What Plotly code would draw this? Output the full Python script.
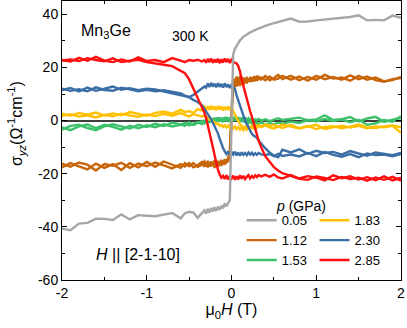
import plotly.graph_objects as go

# Field grid (T), shared by every sweep branch
H = [-2.0, -1.9, -1.8, -1.7, -1.6, -1.5, -1.4, -1.3, -1.2, -1.1, -1.0, -0.9, -0.8, -0.7, -0.6,
     -0.55, -0.5, -0.45, -0.4, -0.35,
     -0.32, -0.30, -0.28, -0.26, -0.24, -0.22, -0.20, -0.18, -0.16, -0.14, -0.12, -0.10, -0.08,
     -0.06, -0.04, -0.02, 0.00, 0.02, 0.04, 0.06, 0.08, 0.10, 0.12, 0.14, 0.16, 0.18, 0.20,
     0.22, 0.24, 0.26, 0.28, 0.30, 0.32,
     0.35, 0.40, 0.45, 0.50, 0.55,
     0.6, 0.7, 0.8, 0.9, 1.0, 1.1, 1.2, 1.3, 1.4, 1.5, 1.6, 1.7, 1.8, 1.9, 2.0]

pressures = ["0.05", "1.12", "1.53", "1.83", "2.30", "2.85"]

s_005 = [-40.6, -41.3, -38.8, -38.5, -36.9, -37.0, -37.4, -35.3, -37.2, -35.6, -35.8, -36.0, -35.4, -34.8, -36.8,
         -34.9, -34.3, -34.6, -36.6, -34.8,
         -33.8, -35.0, -33.2, -34.6, -32.9, -34.2, -32.6, -34.0, -32.4, -33.6, -32.0, -33.0, -31.2,
         -32.3, -30.8, -30.0, -2.0, 25.0, 27.0, 28.2, 29.3, 30.2, 30.8, 31.6, 31.9, 32.4, 32.8,
         33.2, 33.5, 33.9, 34.1, 34.4, 34.6,
         34.9, 35.6, 36.2, 36.6, 37.1,
         37.5, 38.4, 37.2, 37.3, 37.7, 38.0, 38.4, 38.7, 39.0, 39.6, 37.7, 37.9, 37.7, 39.5, 38.7]

s_112_a = [-16.2, -17.4, -15.8, -16.6, -18.8, -16.4, -17.0, -15.9, -17.8, -16.2, -17.2, -15.8, -16.9, -18.0, -16.4,
           -17.3, -16.0, -17.6, -16.8, -15.6,
           -17.4, -15.8, -17.6, -15.9, -17.2, -15.6, -17.8, -15.8, -17.4, -15.4, -17.0, -15.2, -16.6,
           -14.8, -15.6, -13.5, 0.0, 13.8, 15.6, 12.8, 16.2, 13.0, 16.4, 13.4, 16.0, 14.0, 15.8,
           14.6, 16.2, 14.8, 16.6, 15.0, 16.4,
           15.4, 16.8, 15.2, 16.0, 17.2,
           15.6, 16.8, 15.2, 16.4, 15.4, 17.2, 15.8, 16.2, 15.0, 16.8, 15.4, 16.2, 14.8, 15.2, 16.4]
s_112_b = [-17.6, -16.0, -17.2, -18.4, -16.2, -17.8, -16.4, -18.6, -16.0, -17.6, -15.6, -17.4, -15.4, -16.6, -17.8,
           -16.0, -17.2, -16.0, -17.4, -16.6,
           -15.4, -17.0, -15.2, -17.3, -15.4, -16.9, -15.0, -16.8, -15.2, -17.0, -14.8, -16.4, -14.6,
           -16.0, -13.8, -12.0, 4.0, 15.8, 12.6, 16.6, 13.2, 16.8, 13.6, 16.2, 14.2, 16.4, 14.8,
           16.0, 15.0, 16.2, 15.4, 16.8, 15.6,
           16.2, 15.2, 16.6, 15.4, 15.8,
           16.8, 15.4, 16.6, 15.0, 16.8, 15.6, 16.4, 15.4, 17.0, 15.6, 16.6, 15.2, 14.6, 15.6, 16.0]

s_153_a = [-2.6, -3.6, -2.2, -1.5, -2.8, -1.6, -2.4, -3.4, -2.0, -2.9, -1.8, -2.5, -1.4, -2.2, -1.6,
           -0.9, -1.8, -1.2, -0.6, -1.4,
           0.2, -1.0, 0.6, -0.8, 0.8, -0.6, 1.0, -0.5, 1.2, -0.4, 1.0, -0.6, 1.3,
           -0.3, 1.1, -0.5, 1.2, -0.2, 1.4, 0.0, 1.3, -0.2, 1.1, 0.1, 1.2, -0.1, 0.9,
           0.2, 0.7, -0.2, 0.5, 0.1, 0.6,
           0.0, 0.5, -0.2, 0.4, 0.9,
           0.2, 0.6, 1.1, 0.1, 0.4, 2.0, 0.2, 0.5, 1.3, -0.3, 0.8, 1.4, -0.5, 0.3, 1.0]
s_153_b = [-3.4, -2.0, -1.6, -2.8, -3.6, -2.2, -1.4, -2.2, -3.0, -1.6, -2.4, -1.2, -2.0, -0.8, -1.4,
           -2.0, -0.6, -1.6, -0.8, -0.2,
           -1.0, 0.4, -0.9, 0.7, -0.7, 0.9, -0.5, 1.1, -0.3, 1.2, -0.4, 1.0, -0.2,
           1.3, 0.0, 1.1, -0.1, 1.3, 0.1, 1.2, -0.3, 0.8, -0.5, 0.6, -0.8, 0.3, -1.0,
           -0.3, -1.2, -0.6, -1.4, -0.8, -1.3,
           -0.7, -1.5, -0.9, -1.4, -0.8,
           -1.2, -0.4, -0.9, 0.2, -0.3, 0.6, -0.2, 0.4, -0.6, 0.3, -1.6, -1.0, 0.2, -0.4, 1.6]

s_183_a = [1.8, 2.4, 1.5, 2.0, 1.2, 2.2, 1.6, 2.6, 1.9, 1.4, 2.3, 1.7, 2.5, 1.8, 2.8,
           2.2, 1.6, 2.4, 1.9, 1.5,
           1.9, 1.0, 1.4, 0.4, 0.6, -0.4, -0.6, -1.3, -1.1, -2.0, -1.6, -2.4, -1.8,
           -2.6, -1.9, -2.8, -2.0, -3.0, -2.2, -3.2, -2.4, -3.4, -2.5, -3.6, -2.6, -3.4, -2.4,
           -3.1, -2.2, -2.9, -2.0, -2.7, -1.9,
           -2.5, -1.8, -2.6, -3.0, -2.2,
           -2.8, -1.6, -2.9, -2.0, -3.2, -2.4, -2.1, -2.9, -2.3, -1.5, -2.6, -2.8, -2.2, -1.8, -2.5]
s_183_b = [2.6, 1.8, 2.9, 2.2, 3.0, 1.9, 2.7, 2.0, 3.2, 2.4, 1.8, 2.9, 3.4, 2.6, 4.0,
           3.2, 3.6, 2.8, 4.3, 3.8,
           5.2, 3.9, 5.4, 4.0, 5.6, 4.1, 5.3, 3.9, 5.5, 4.2, 5.4, 3.8, 5.2,
           4.0, 5.3, 3.9, 4.8, 3.5, 2.2, 0.8, -0.4, -1.4, -2.0, -2.8, -2.2, -3.0, -2.1,
           -2.9, -2.0, -2.7, -1.8, -2.5, -1.6,
           -2.3, -1.4, -2.0, -1.6, -2.4,
           -1.5, -2.2, -3.0, -2.3, -1.6, -3.2, -2.5, -1.9, -2.6, -2.0, -2.9, -2.2, -2.5, -2.0, -4.6]

s_230_a = [11.5, 12.3, 11.0, 12.4, 11.2, 12.0, 12.8, 11.6, 12.2, 11.4, 12.0, 11.7, 11.0, 10.2, 9.5,
           9.0, 8.8, 7.8, 7.0, 5.8,
           4.5, 3.5, 2.5, 1.5, 0.5, -0.8, -2.0, -3.3, -4.8, -6.8, -8.8, -10.3, -11.6,
           -12.6, -11.6, -13.0, -11.8, -12.8, -11.7, -13.1, -12.0, -13.2, -11.9, -12.9, -12.2, -13.0, -12.0,
           -12.8, -12.1, -13.0, -12.3, -12.9, -12.2,
           -12.7, -13.0, -12.6, -13.4, -12.5,
           -13.3, -12.8, -13.5, -12.2, -13.4, -11.8, -12.9, -13.6, -12.6, -13.8, -12.4, -13.0, -12.8, -13.4, -12.6]
s_230_b = [12.0, 11.2, 11.8, 11.0, 12.5, 11.5, 11.2, 12.4, 11.8, 11.0, 11.6, 11.0, 11.4, 10.8, 10.2,
           9.4, 8.8, 9.6, 10.8, 12.0,
           12.8, 12.4, 14.0, 12.6, 14.2, 12.8, 13.9, 12.5, 14.1, 12.7, 13.8, 12.4, 14.0,
           12.6, 13.6, 12.3, 13.5, 12.8, 12.0, 9.5, 7.5, 5.5, 3.3, 1.3, 0.0, -1.3, -2.5,
           -3.8, -5.0, -5.6, -6.0, -6.5, -7.5,
           -8.8, -10.5, -12.0, -13.2, -13.8,
           -11.0, -12.0, -10.8, -12.5, -11.4, -12.2, -11.8, -12.8, -11.5, -12.4, -13.2, -12.0, -12.6, -13.0, -12.2]

s_285_a = [22.6, 23.0, 22.4, 23.5, 22.8, 22.3, 23.4, 22.0, 22.5, 22.9, 22.0, 21.6, 21.0, 20.5, 18.5,
           17.8, 15.5, 12.0, 8.5, 5.5,
           3.0, 1.0, -1.5, -4.0, -7.0, -10.0, -13.0, -16.0, -18.5, -20.3, -21.5, -20.8, -22.0,
           -20.6, -22.2, -20.9, -21.8, -20.7, -22.3, -21.0, -22.1, -20.6, -21.9, -20.8, -22.0, -21.2, -20.5,
           -21.8, -20.9, -21.5, -20.6, -21.3, -20.5,
           -21.0, -20.4, -21.2, -20.3, -21.4,
           -21.8, -20.5, -21.8, -20.9, -21.5, -22.5, -20.6, -21.7, -21.0, -22.2, -21.3, -22.4, -21.0, -22.5, -21.5]
s_285_b = [22.8, 22.2, 23.6, 22.5, 24.0, 22.6, 22.0, 23.0, 22.2, 23.8, 22.4, 22.8, 22.0, 23.5, 22.6,
           22.0, 22.8, 22.5, 22.9, 22.3,
           22.8, 21.8, 23.2, 22.0, 23.4, 21.7, 23.0, 21.9, 23.3, 21.6, 23.1, 21.8, 23.4,
           22.0, 23.2, 21.7, 22.9, 22.0, 21.8, 21.5, 20.5, 18.5, 15.5, 13.0, 10.0, 8.0, 6.0,
           3.5, 1.5, -1.0, -3.5, -5.5, -7.5,
           -10.0, -13.5, -15.5, -17.5, -18.8,
           -19.8, -20.8, -21.9, -22.3, -21.0, -21.6, -22.4, -21.2, -22.0, -21.5, -22.6, -21.4, -22.3, -21.2, -22.6]

branches = {
    "0.05": [s_005],
    "1.12": [s_112_a, s_112_b],
    "1.53": [s_153_a, s_153_b],
    "1.83": [s_183_a, s_183_b],
    "2.30": [s_230_a, s_230_b],
    "2.85": [s_285_a, s_285_b],
}
colors = {"0.05": "#a6a6a6", "1.12": "#c8650a", "1.53": "#3cc06a",
          "1.83": "#ffc000", "2.30": "#3a6ea5", "2.85": "#ff1010"}
# legend columns: left (0.05, 1.12, 1.53), right (1.83, 2.30, 2.85)
legend_of = {"0.05": "legend", "1.12": "legend", "1.53": "legend",
             "1.83": "legend2", "2.30": "legend2", "2.85": "legend2"}
legend_rank = {"0.05": 1, "1.12": 2, "1.53": 3, "1.83": 1, "2.30": 2, "2.85": 3}

xticks = [-2, -1, 0, 1, 2]
xticklabels = ["-2", "-1", "0", "1", "2"]
yticks = [-60, -40, -20, 0, 20, 40]
yticklabels = ["-60", "-40", "-20", "0", "20", "40"]

fig = go.Figure()
draw_order = ["1.12", "1.53", "1.83", "2.30", "2.85", "0.05"]
for p in draw_order:
    for i, ys in enumerate(branches[p]):
        fig.add_trace(go.Scatter(
            x=H, y=ys, mode="lines", name=p, legendgroup=p, legend=legend_of[p],
            showlegend=(i == 0), legendrank=legend_rank[p],
            line=dict(color=colors[p], width=2.4),
        ))

FONT = "Liberation Sans, Arial, sans-serif"
leg_common = dict(orientation="v", yanchor="top", xanchor="left", itemwidth=30,
                  tracegroupgap=0, bgcolor="rgba(0,0,0,0)",
                  font=dict(size=13, family=FONT, color="black"))
fig.update_layout(
    width=407, height=328,
    margin=dict(l=62, r=6, t=1, b=48, autoexpand=False),
    paper_bgcolor="white", plot_bgcolor="white",
    font=dict(family=FONT, size=14, color="black"),
    showlegend=True,
    legend=dict(x=0.53, y=0.268, **leg_common),
    legend2=dict(x=0.745, y=0.268, **leg_common),
    xaxis=dict(range=[-2, 2], tickvals=xticks, ticktext=xticklabels,
               ticks="inside", ticklen=5, tickcolor="black", showline=True,
               linecolor="black", linewidth=1, mirror="ticks", showgrid=False,
               zeroline=False, tickfont=dict(size=14),
               minor=dict(tickvals=[-1.5, -0.5, 0.5, 1.5], ticks="inside", ticklen=3,
                          tickcolor="black"),
               title=dict(text="μ<sub>0</sub><i>H</i> (T)", font=dict(size=16), standoff=4)),
    yaxis=dict(range=[-60, 45], tickvals=yticks, ticktext=yticklabels,
               ticks="inside", ticklen=5, tickcolor="black", showline=True,
               linecolor="black", linewidth=1, mirror="ticks", showgrid=False,
               zeroline=True, zerolinecolor="#404040", zerolinewidth=1.5,
               tickfont=dict(size=14),
               minor=dict(tickvals=[-50, -30, -10, 10, 30], ticks="inside", ticklen=3,
                          tickcolor="black")),
)

fig.add_annotation(text="σ<sub><i>yz</i></sub>(Ω<sup>-1</sup>cm<sup>-1</sup>)",
                   xref="paper", yref="paper", x=-0.135, y=0.56, xanchor="center",
                   yanchor="middle", textangle=-90, showarrow=False, font=dict(size=16))
fig.add_annotation(text="Mn<sub>3</sub>Ge", xref="paper", yref="paper", x=0.05, y=0.89,
                   xanchor="left", yanchor="middle", showarrow=False, font=dict(size=16))
fig.add_annotation(text="300 K", xref="paper", yref="paper", x=0.38, y=0.875,
                   xanchor="center", yanchor="middle", showarrow=False, font=dict(size=14))
fig.add_annotation(text="<i>H</i> || [2-1-10]", xref="paper", yref="paper", x=0.095, y=0.09,
                   xanchor="left", yanchor="middle", showarrow=False, font=dict(size=16))
fig.add_annotation(text="<i>p</i> (GPa)", xref="paper", yref="paper", x=0.705, y=0.265,
                   xanchor="center", yanchor="middle", showarrow=False, font=dict(size=14))

fig.write_html("out.html", config={"displayModeBar": False},
               post_script="document.body.style.margin='0';document.body.style.overflow='hidden';")
